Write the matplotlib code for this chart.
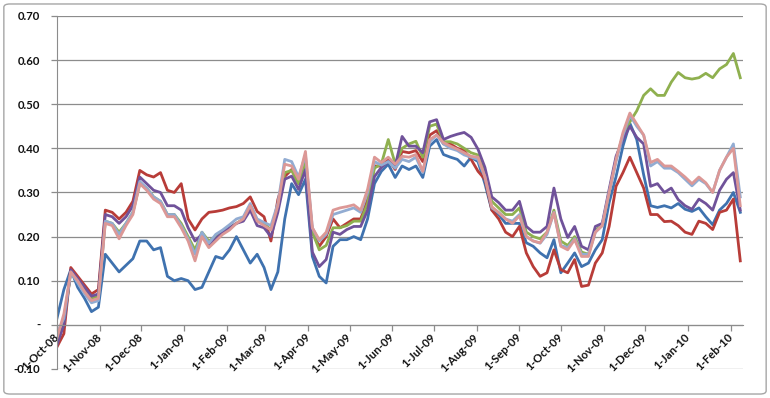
"""
Six daily series, Oct-08 to Feb-10, Excel style line chart
"""

import pandas as pd
import matplotlib
matplotlib.use('Agg')
import matplotlib.pyplot as plt
import matplotlib.dates as mdates
from matplotlib.patches import FancyBboxPatch
from matplotlib.ticker import FuncFormatter, MultipleLocator

# dates, every 5 days from 1-Oct-08
dates = pd.date_range("2008-10-01", periods=100, freq="5D")

blue = [0.015, 0.08, 0.125, 0.085, 0.06, 0.03, 0.04, 0.16, 0.14, 0.12,
        0.135, 0.15, 0.19, 0.19, 0.17, 0.175, 0.11, 0.10, 0.105, 0.10,
        0.08, 0.085, 0.12, 0.155, 0.15, 0.17, 0.20, 0.17, 0.14, 0.16,
        0.13, 0.08, 0.12, 0.24, 0.32, 0.295, 0.33, 0.155, 0.11, 0.095,
        0.178, 0.193, 0.193, 0.20, 0.193, 0.24, 0.32, 0.348, 0.364, 0.334,
        0.36, 0.352, 0.36, 0.334, 0.405, 0.42, 0.386, 0.38, 0.375, 0.36,
        0.38, 0.37, 0.32, 0.26, 0.25, 0.23, 0.23, 0.23, 0.186, 0.178,
        0.163, 0.152, 0.193, 0.118, 0.14, 0.163, 0.132, 0.14, 0.17, 0.193,
        0.277, 0.336, 0.405, 0.457, 0.42, 0.34, 0.27, 0.266, 0.27, 0.265,
        0.275, 0.262, 0.257, 0.265, 0.245, 0.227, 0.26, 0.275, 0.30, 0.255]

red = [-0.05, -0.02, 0.13, 0.11, 0.09, 0.07, 0.08, 0.26, 0.255, 0.24,
       0.255, 0.28, 0.35, 0.34, 0.335, 0.345, 0.305, 0.30, 0.32, 0.24,
       0.215, 0.24, 0.255, 0.257, 0.26, 0.265, 0.268, 0.275, 0.29, 0.257,
       0.245, 0.19, 0.284, 0.336, 0.352, 0.32, 0.375, 0.21, 0.178, 0.20,
       0.24, 0.22, 0.23, 0.24, 0.24, 0.284, 0.36, 0.36, 0.375, 0.352,
       0.393, 0.39, 0.395, 0.37, 0.43, 0.44, 0.41, 0.41, 0.40, 0.395,
       0.375, 0.348, 0.33, 0.26, 0.24, 0.21, 0.20, 0.223, 0.163, 0.132,
       0.11, 0.118, 0.17, 0.125, 0.118, 0.148, 0.087, 0.09, 0.14, 0.163,
       0.223, 0.314, 0.345, 0.38, 0.345, 0.31, 0.25, 0.25, 0.234, 0.235,
       0.225, 0.21, 0.205, 0.235, 0.23, 0.216, 0.255, 0.26, 0.285, 0.145]

green = [-0.04, 0.005, 0.12, 0.10, 0.08, 0.06, 0.065, 0.235, 0.23, 0.21,
         0.23, 0.255, 0.32, 0.31, 0.29, 0.28, 0.25, 0.25, 0.23, 0.20,
         0.17, 0.21, 0.19, 0.20, 0.21, 0.22, 0.23, 0.24, 0.265, 0.235,
         0.23, 0.215, 0.265, 0.345, 0.35, 0.32, 0.37, 0.21, 0.17, 0.18,
         0.22, 0.22, 0.225, 0.235, 0.235, 0.275, 0.355, 0.365, 0.42, 0.365,
         0.40, 0.41, 0.416, 0.38, 0.45, 0.455, 0.415, 0.415, 0.41, 0.40,
         0.39, 0.385, 0.345, 0.28, 0.265, 0.25, 0.25, 0.265, 0.21, 0.20,
         0.195, 0.21, 0.26, 0.19, 0.18, 0.20, 0.165, 0.16, 0.215, 0.225,
         0.30, 0.375, 0.43, 0.46, 0.485, 0.52, 0.535, 0.52, 0.52, 0.55,
         0.572, 0.56, 0.557, 0.56, 0.57, 0.56, 0.58, 0.59, 0.615, 0.56]

purple = [-0.045, 0.0, 0.125, 0.105, 0.085, 0.065, 0.07, 0.25, 0.245, 0.23,
          0.245, 0.27, 0.335, 0.32, 0.305, 0.30, 0.27, 0.27, 0.26, 0.22,
          0.19, 0.205, 0.18, 0.195, 0.21, 0.22, 0.23, 0.235, 0.26, 0.225,
          0.22, 0.20, 0.255, 0.33, 0.337, 0.307, 0.352, 0.165, 0.132, 0.148,
          0.21, 0.205, 0.216, 0.223, 0.223, 0.26, 0.336, 0.357, 0.37, 0.36,
          0.427, 0.405, 0.405, 0.39, 0.46, 0.465, 0.42, 0.427, 0.432, 0.436,
          0.425, 0.398, 0.357, 0.29, 0.277, 0.26, 0.26, 0.28, 0.223, 0.21,
          0.21, 0.223, 0.31, 0.24, 0.198, 0.223, 0.178, 0.17, 0.223, 0.23,
          0.307, 0.382, 0.42, 0.45, 0.425, 0.41, 0.314, 0.32, 0.30, 0.31,
          0.284, 0.27, 0.262, 0.285, 0.275, 0.26, 0.305, 0.33, 0.345, 0.26]

light_blue = [-0.02, 0.015, 0.12, 0.095, 0.07, 0.05, 0.055, 0.235, 0.23, 0.205,
              0.23, 0.255, 0.325, 0.31, 0.29, 0.28, 0.25, 0.25, 0.225, 0.195,
              0.16, 0.21, 0.185, 0.205, 0.215, 0.227, 0.24, 0.245, 0.275, 0.24,
              0.232, 0.225, 0.275, 0.375, 0.37, 0.335, 0.385, 0.22, 0.19, 0.205,
              0.25, 0.255, 0.26, 0.265, 0.255, 0.30, 0.37, 0.362, 0.37, 0.355,
              0.375, 0.37, 0.38, 0.345, 0.415, 0.43, 0.41, 0.40, 0.395, 0.385,
              0.38, 0.375, 0.335, 0.265, 0.255, 0.24, 0.235, 0.25, 0.20, 0.19,
              0.185, 0.205, 0.255, 0.18, 0.175, 0.195, 0.16, 0.16, 0.21, 0.225,
              0.30, 0.37, 0.43, 0.475, 0.45, 0.43, 0.36, 0.37, 0.355, 0.355,
              0.345, 0.33, 0.315, 0.33, 0.32, 0.30, 0.35, 0.38, 0.41, 0.29]

pink = [-0.03, 0.025, 0.12, 0.10, 0.075, 0.055, 0.06, 0.23, 0.225, 0.195,
        0.225, 0.25, 0.32, 0.305, 0.285, 0.275, 0.245, 0.245, 0.22, 0.19,
        0.145, 0.20, 0.175, 0.19, 0.205, 0.215, 0.23, 0.24, 0.27, 0.235,
        0.225, 0.215, 0.27, 0.364, 0.36, 0.33, 0.393, 0.22, 0.193, 0.21,
        0.26, 0.265, 0.268, 0.272, 0.26, 0.307, 0.38, 0.368, 0.38, 0.364,
        0.382, 0.38, 0.386, 0.348, 0.42, 0.43, 0.413, 0.405, 0.398, 0.39,
        0.382, 0.38, 0.336, 0.268, 0.254, 0.24, 0.23, 0.247, 0.20, 0.19,
        0.186, 0.21, 0.254, 0.178, 0.17, 0.193, 0.155, 0.155, 0.21, 0.225,
        0.30, 0.375, 0.436, 0.48, 0.455, 0.43, 0.368, 0.375, 0.36, 0.36,
        0.348, 0.335, 0.32, 0.335, 0.322, 0.30, 0.35, 0.38, 0.40, 0.27]

series = [blue, red, green, purple, light_blue, pink]
colors = ['#3F72AF', '#B83C38', '#8FB04F', '#70529A', '#92ACD2', '#DC9896']

plt.rcParams['font.family'] = ['Lato', 'DejaVu Sans']

fig = plt.figure(figsize=(7.7, 3.98), dpi=100)
fig.patches.append(FancyBboxPatch((0.005, 0.01), 0.99, 0.98,
                                  boxstyle="round,pad=0,rounding_size=0.008",
                                  transform=fig.transFigure, fill=False,
                                  edgecolor='#A6A6A6', linewidth=1.0))

ax = fig.add_axes([0.074, 0.0729, 0.891, 0.887])

for vals, c in zip(series, colors):
    ax.plot(dates, vals, color=c, linewidth=2.0, solid_joinstyle='round')

ax.set_ylim(-0.10, 0.70)
ax.set_xlim(pd.Timestamp("2008-10-01"), pd.Timestamp("2010-02-10"))

ax.yaxis.set_major_locator(MultipleLocator(0.1))
ax.yaxis.set_major_formatter(FuncFormatter(lambda v, p: '-' if abs(v) < 1e-9 else f'{v:.2f}'))
ax.grid(axis='y', color='#8C8C8C', linewidth=0.9)
ax.set_axisbelow(True)

ax.xaxis.set_major_locator(mdates.MonthLocator())
ax.xaxis.set_major_formatter(mdates.DateFormatter('%-d-%b-%y'))

for s in ['top', 'right']:
    ax.spines[s].set_visible(False)
ax.spines['left'].set_color('#8C8C8C')
ax.spines['bottom'].set_color('#8C8C8C')
ax.spines['bottom'].set_position(('data', 0))

ax.tick_params(axis='both', colors='#8C8C8C', length=4, width=0.9,
               labelcolor='#111111', labelsize=8.2)
ax.tick_params(axis='y', pad=8)
for lab in ax.get_yticklabels():
    lab.set_fontweight('bold')
for lab in ax.get_xticklabels():
    lab.set_fontweight('bold')
    lab.set_rotation(45)
    lab.set_rotation_mode('anchor')
    lab.set_ha('right')
    lab.set_va('center')

fig.savefig('out.png', dpi=100)
